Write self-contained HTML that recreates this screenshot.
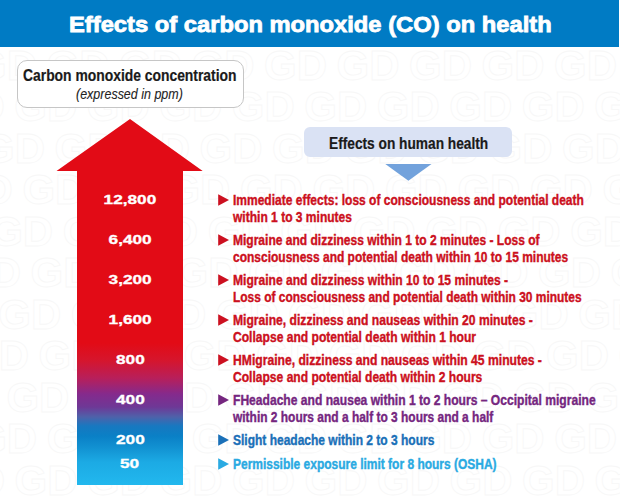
<!DOCTYPE html>
<html><head><meta charset="utf-8">
<style>
html,body{margin:0;padding:0;background:#fff;}
body{width:620px;height:502px;position:relative;overflow:hidden;font-family:"Liberation Sans",sans-serif;}
.abs{position:absolute;}
.t{position:absolute;white-space:nowrap;transform-origin:0 0;line-height:1;}
#hdr{left:0;top:0;width:619px;height:47px;background:#007bc4;}
#title{left:68.8px;top:14.5px;font-size:21.5px;font-weight:bold;color:#fff;transform:scaleX(1.104);-webkit-text-stroke:0.8px #fff;}
#box1{left:16.5px;top:60px;width:225px;height:45.5px;border:1px solid #c6c6c6;border-radius:10px;background:#fff;}
#b1t{left:23px;top:68px;font-size:16px;font-weight:bold;color:#1a1a1a;transform:scaleX(0.867);-webkit-text-stroke:0.2px #1a1a1a;}
#b1i{left:76px;top:87px;font-size:14.2px;font-style:italic;color:#222;transform:scaleX(0.88);-webkit-text-stroke:0.1px #222;}
#box2{left:304px;top:127px;width:208px;height:30px;border-radius:6px;background:#dae2f4;}
#b2t{left:328.5px;top:136px;font-size:16px;font-weight:bold;color:#1a1a1a;transform:scaleX(0.857);-webkit-text-stroke:0.2px #1a1a1a;}
.num{position:absolute;left:77px;width:106px;text-align:center;font-size:13.7px;font-weight:bold;color:#fff;line-height:1;}
.num span{display:inline-block;transform:scaleX(1.26);-webkit-text-stroke:0.35px #fff;}
.li{position:absolute;left:233px;font-size:15px;font-weight:bold;line-height:1;white-space:nowrap;transform-origin:0 0;-webkit-text-stroke:0.4px currentColor;}
</style></head><body>
<svg class="abs" style="left:0;top:0" width="620" height="502"><g fill="none" stroke="#f7f7f7" stroke-width="0.8" font-family="Liberation Sans" font-weight="bold" font-size="42"><text x="-26.0" y="79.5">GD</text><text x="46.5" y="79.5">GD</text><text x="119.0" y="79.5">GD</text><text x="191.5" y="79.5">GD</text><text x="264.0" y="79.5">GD</text><text x="336.5" y="79.5">GD</text><text x="409.0" y="79.5">GD</text><text x="481.5" y="79.5">GD</text><text x="554.0" y="79.5">GD</text><text x="-58.2" y="121.0">GD</text><text x="14.3" y="121.0">GD</text><text x="86.8" y="121.0">GD</text><text x="159.3" y="121.0">GD</text><text x="231.8" y="121.0">GD</text><text x="304.3" y="121.0">GD</text><text x="376.8" y="121.0">GD</text><text x="449.3" y="121.0">GD</text><text x="521.8" y="121.0">GD</text><text x="594.3" y="121.0">GD</text><text x="-17.9" y="162.5">GD</text><text x="54.6" y="162.5">GD</text><text x="127.1" y="162.5">GD</text><text x="199.6" y="162.5">GD</text><text x="272.1" y="162.5">GD</text><text x="344.6" y="162.5">GD</text><text x="417.1" y="162.5">GD</text><text x="489.6" y="162.5">GD</text><text x="562.1" y="162.5">GD</text><text x="-50.1" y="204.0">GD</text><text x="22.4" y="204.0">GD</text><text x="94.9" y="204.0">GD</text><text x="167.4" y="204.0">GD</text><text x="239.9" y="204.0">GD</text><text x="312.4" y="204.0">GD</text><text x="384.9" y="204.0">GD</text><text x="457.4" y="204.0">GD</text><text x="529.9" y="204.0">GD</text><text x="602.4" y="204.0">GD</text><text x="-9.8" y="245.5">GD</text><text x="62.7" y="245.5">GD</text><text x="135.2" y="245.5">GD</text><text x="207.7" y="245.5">GD</text><text x="280.2" y="245.5">GD</text><text x="352.7" y="245.5">GD</text><text x="425.2" y="245.5">GD</text><text x="497.7" y="245.5">GD</text><text x="570.2" y="245.5">GD</text><text x="-42.0" y="287.0">GD</text><text x="30.5" y="287.0">GD</text><text x="103.0" y="287.0">GD</text><text x="175.5" y="287.0">GD</text><text x="248.0" y="287.0">GD</text><text x="320.5" y="287.0">GD</text><text x="393.0" y="287.0">GD</text><text x="465.5" y="287.0">GD</text><text x="538.0" y="287.0">GD</text><text x="610.5" y="287.0">GD</text><text x="-1.7" y="328.5">GD</text><text x="70.8" y="328.5">GD</text><text x="143.3" y="328.5">GD</text><text x="215.8" y="328.5">GD</text><text x="288.3" y="328.5">GD</text><text x="360.8" y="328.5">GD</text><text x="433.3" y="328.5">GD</text><text x="505.8" y="328.5">GD</text><text x="578.3" y="328.5">GD</text><text x="-33.9" y="370.0">GD</text><text x="38.6" y="370.0">GD</text><text x="111.1" y="370.0">GD</text><text x="183.6" y="370.0">GD</text><text x="256.1" y="370.0">GD</text><text x="328.6" y="370.0">GD</text><text x="401.1" y="370.0">GD</text><text x="473.6" y="370.0">GD</text><text x="546.1" y="370.0">GD</text><text x="618.6" y="370.0">GD</text><text x="-66.1" y="411.5">GD</text><text x="6.4" y="411.5">GD</text><text x="78.9" y="411.5">GD</text><text x="151.4" y="411.5">GD</text><text x="223.9" y="411.5">GD</text><text x="296.4" y="411.5">GD</text><text x="368.9" y="411.5">GD</text><text x="441.4" y="411.5">GD</text><text x="513.9" y="411.5">GD</text><text x="586.4" y="411.5">GD</text><text x="-25.8" y="453.0">GD</text><text x="46.7" y="453.0">GD</text><text x="119.2" y="453.0">GD</text><text x="191.7" y="453.0">GD</text><text x="264.2" y="453.0">GD</text><text x="336.7" y="453.0">GD</text><text x="409.2" y="453.0">GD</text><text x="481.7" y="453.0">GD</text><text x="554.2" y="453.0">GD</text><text x="-58.0" y="494.5">GD</text><text x="14.5" y="494.5">GD</text><text x="87.0" y="494.5">GD</text><text x="159.5" y="494.5">GD</text><text x="232.0" y="494.5">GD</text><text x="304.5" y="494.5">GD</text><text x="377.0" y="494.5">GD</text><text x="449.5" y="494.5">GD</text><text x="522.0" y="494.5">GD</text><text x="594.5" y="494.5">GD</text></g></svg>
<div id="hdr" class="abs"></div>
<div id="title" class="t">Effects of carbon monoxide (CO) on health</div>
<div id="box1" class="abs"></div>
<div id="b1t" class="t">Carbon monoxide concentration</div>
<div id="b1i" class="t">(expressed in ppm)</div>
<svg class="abs" style="left:0;top:0" width="620" height="502"><defs><linearGradient id="g" x1="0" y1="119" x2="0" y2="485" gradientUnits="userSpaceOnUse"><stop offset="0.0000" stop-color="#e20b16"/><stop offset="0.6120" stop-color="#e20b16"/><stop offset="0.6585" stop-color="#d6152c"/><stop offset="0.7077" stop-color="#b81f5a"/><stop offset="0.7514" stop-color="#852a8c"/><stop offset="0.7869" stop-color="#6e3896"/><stop offset="0.8142" stop-color="#4e62aa"/><stop offset="0.8388" stop-color="#1878c0"/><stop offset="0.8661" stop-color="#0a80c6"/><stop offset="0.8989" stop-color="#1292d2"/><stop offset="0.9372" stop-color="#1caae4"/><stop offset="1.0000" stop-color="#22b8ee"/></linearGradient></defs>
<polygon points="130,119 202.7,171 183,171 183,485 77,485 77,171 56.5,171" fill="url(#g)"/>
<polygon points="218.2,194.20 229,200 218.2,205.80" fill="#cc1020"/>
<polygon points="218.2,234.20 229,240 218.2,245.80" fill="#cc1020"/>
<polygon points="218.2,274.20 229,280 218.2,285.80" fill="#cc1020"/>
<polygon points="218.2,314.20 229,320 218.2,325.80" fill="#cc1020"/>
<polygon points="218.2,354.20 229,360 218.2,365.80" fill="#cc1020"/>
<polygon points="218.2,394.20 229,400 218.2,405.80" fill="#75267f"/>
<polygon points="218.2,434.20 229,440 218.2,445.80" fill="#1a70b8"/>
<polygon points="218.2,458.20 229,464 218.2,469.80" fill="#2aaae2"/>
<polygon points="385.3,164 431.5,164 408.4,180.7" fill="#72a2dc"/>
</svg>
<div id="box2" class="abs"></div>
<div id="b2t" class="t">Effects on human health</div>
<div class="num" style="top:193px"><span>12,800</span></div>
<div class="num" style="top:233px"><span>6,400</span></div>
<div class="num" style="top:273px"><span>3,200</span></div>
<div class="num" style="top:313px"><span>1,600</span></div>
<div class="num" style="top:353px"><span>800</span></div>
<div class="num" style="top:393px"><span>400</span></div>
<div class="num" style="top:433px"><span>200</span></div>
<div class="num" style="top:457px"><span>50</span></div>
<div class="li" style="top:192.00px;color:#cc1020;transform:scaleX(0.8002)">Immediate effects: loss of consciousness and potential death</div>
<div class="li" style="top:208.75px;color:#cc1020;transform:scaleX(0.8021)">within 1 to 3 minutes</div>
<div class="li" style="top:232.00px;color:#cc1020;transform:scaleX(0.8013)">Migraine and dizziness within 1 to 2 minutes - Loss of</div>
<div class="li" style="top:248.75px;color:#cc1020;transform:scaleX(0.7994)">consciousness and potential death within 10 to 15 minutes</div>
<div class="li" style="top:272.00px;color:#cc1020;transform:scaleX(0.8050)">Migraine and dizziness within 10 to 15 minutes -</div>
<div class="li" style="top:288.75px;color:#cc1020;transform:scaleX(0.7966)">Loss of consciousness and potential death within 30 minutes</div>
<div class="li" style="top:312.00px;color:#cc1020;transform:scaleX(0.8082)">Migraine, dizziness and nauseas within 20 minutes -</div>
<div class="li" style="top:328.75px;color:#cc1020;transform:scaleX(0.8057)">Collapse and potential death within 1 hour</div>
<div class="li" style="top:352.00px;color:#cc1020;transform:scaleX(0.8092)">HMigraine, dizziness and nauseas within 45 minutes -</div>
<div class="li" style="top:368.75px;color:#cc1020;transform:scaleX(0.8042)">Collapse and potential death within 2 hours</div>
<div class="li" style="top:392.00px;color:#75267f;transform:scaleX(0.8056)">FHeadache and nausea within 1 to 2 hours – Occipital migraine</div>
<div class="li" style="top:408.75px;color:#75267f;transform:scaleX(0.7969)">within 2 hours and a half to 3 hours and a half</div>
<div class="li" style="top:432.00px;color:#1a70b8;transform:scaleX(0.8000)">Slight headache within 2 to 3 hours</div>
<div class="li" style="top:456.00px;color:#2aaae2;transform:scaleX(0.7985)">Permissible exposure limit for 8 hours (OSHA)</div>
</body></html>
